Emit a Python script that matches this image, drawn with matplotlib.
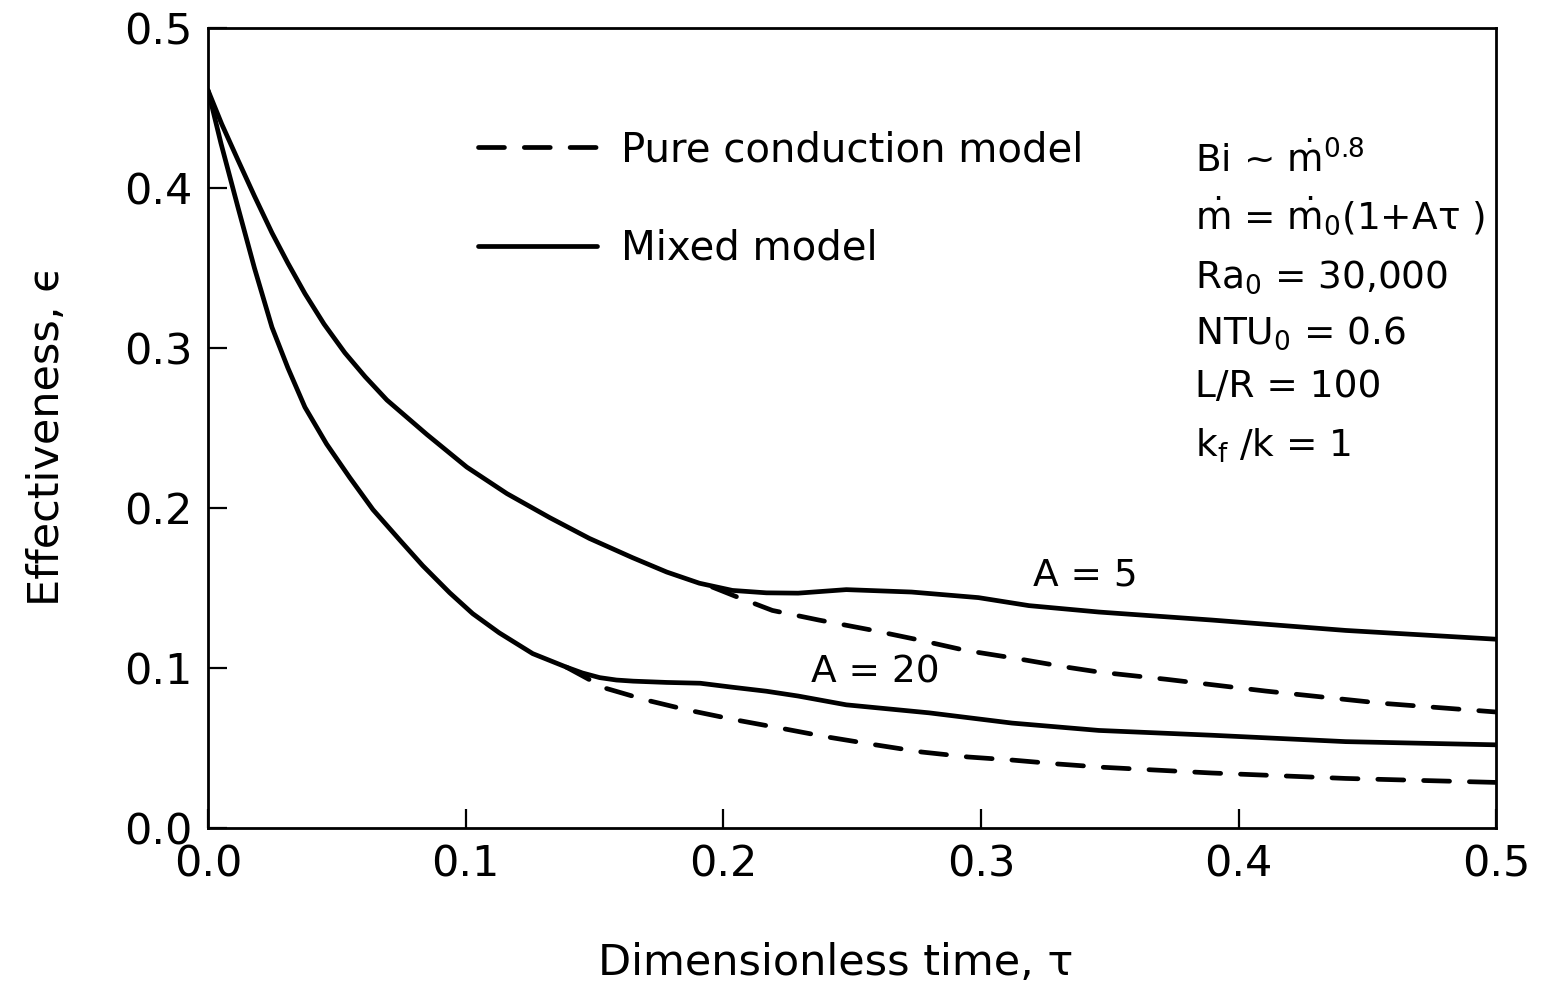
import matplotlib
matplotlib.use("Agg")
import matplotlib.pyplot as plt
from matplotlib.lines import Line2D

plt.rcParams['font.family'] = ['DejaVu Sans']
plt.rcParams['mathtext.fontset'] = 'dejavusans'

# ---- data (tau, effectiveness) ----
tau_A5_mixed = [0.0, 0.0053, 0.0116, 0.018, 0.0248, 0.031, 0.0376, 0.045, 0.0531,
                0.061, 0.0694, 0.0849, 0.1004, 0.116, 0.1326, 0.148, 0.1647, 0.178,
                0.1907, 0.2035, 0.2167, 0.229, 0.2477, 0.273, 0.299, 0.3186, 0.3457,
                0.3895, 0.4415, 0.5]
eps_A5_mixed = [0.461, 0.440, 0.4175, 0.395, 0.372, 0.353, 0.334, 0.315, 0.297,
                0.282, 0.2675, 0.246, 0.2256, 0.209, 0.194, 0.181, 0.169, 0.160,
                0.153, 0.1485, 0.147, 0.1468, 0.149, 0.1475, 0.144, 0.139, 0.135,
                0.130, 0.1235, 0.118]

tau_A20_mixed = [0.0, 0.005, 0.0116, 0.018, 0.0248, 0.031, 0.0376, 0.046, 0.055,
                 0.064, 0.0744, 0.0833, 0.0938, 0.1027, 0.113, 0.126, 0.139, 0.1453,
                 0.152, 0.1585, 0.165, 0.178, 0.191, 0.2035, 0.2167, 0.229, 0.2477,
                 0.2798, 0.312, 0.3457, 0.3895, 0.4415, 0.5]
eps_A20_mixed = [0.461, 0.428, 0.388, 0.350, 0.313, 0.2875, 0.263, 0.240, 0.219,
                 0.199, 0.180, 0.164, 0.147, 0.134, 0.122, 0.109, 0.1006, 0.0969,
                 0.094, 0.0925, 0.0918, 0.091, 0.0905, 0.088, 0.0855, 0.0825, 0.077,
                 0.072, 0.0656, 0.061, 0.058, 0.054, 0.052]

tau_A5_cond = [0.1957, 0.206, 0.219, 0.237, 0.2566, 0.276, 0.294, 0.3136, 0.333,
               0.3457, 0.3717, 0.4105, 0.4554, 0.5]
eps_A5_cond = [0.1506, 0.144, 0.136, 0.130, 0.124, 0.1175, 0.111, 0.106, 0.1006,
               0.0975, 0.093, 0.0856, 0.078, 0.0725]

tau_A20_cond = [0.139, 0.154, 0.170, 0.186, 0.205, 0.2236, 0.240, 0.259, 0.277,
                0.295, 0.312, 0.330, 0.347, 0.3895, 0.4415, 0.5]
eps_A20_cond = [0.1006, 0.0875, 0.080, 0.0738, 0.0675, 0.062, 0.057, 0.052, 0.0475,
                0.0444, 0.0425, 0.040, 0.038, 0.0344, 0.031, 0.0285]

xticks = [0.0, 0.1, 0.2, 0.3, 0.4, 0.5]
yticks = [0.0, 0.1, 0.2, 0.3, 0.4, 0.5]
xtick_labels = ["0.0", "0.1", "0.2", "0.3", "0.4", "0.5"]
ytick_labels = ["0.0", "0.1", "0.2", "0.3", "0.4", "0.5"]

params_text = [
    r"Bi ~ $\dot{\mathrm{m}}^{0.8}$",
    r"$\dot{\mathrm{m}}$ = $\dot{\mathrm{m}}_0$(1+Aτ )",
    r"Ra$_0$ = 30,000",
    r"NTU$_0$ = 0.6",
    "L/R = 100",
    r"k$_\mathrm{f}$ /k = 1",
]

# ---- figure ----
fig = plt.figure(figsize=(15.62, 9.90), dpi=100)
ax = fig.add_axes([0.1332, 0.1636, 0.8248, 0.8081])

lw = 3.4
dash = (5.5, 4.2)
ax.plot(tau_A5_mixed, eps_A5_mixed, color='black', lw=lw, solid_capstyle='round',
        solid_joinstyle='round')
ax.plot(tau_A20_mixed, eps_A20_mixed, color='black', lw=lw, solid_capstyle='round',
        solid_joinstyle='round')
ax.plot(tau_A5_cond, eps_A5_cond, color='black', lw=lw, dashes=dash, dash_capstyle='round')
ax.plot(tau_A20_cond, eps_A20_cond, color='black', lw=lw, dashes=dash, dash_capstyle='round')

ax.set_xlim(0, 0.5)
ax.set_ylim(0, 0.5)
ax.set_xticks(xticks)
ax.set_xticklabels(xtick_labels)
ax.set_yticks(yticks)
ax.set_yticklabels(ytick_labels)
ax.tick_params(direction='in', length=14, width=1.6, labelsize=31, pad=11,
               top=False, right=False)
for s in ax.spines.values():
    s.set_linewidth(2.0)

ax.set_xlabel("Dimensionless time, τ", fontsize=31)
ax.xaxis.set_label_coords(0.487, -0.142)
ax.set_ylabel("Effectiveness, ϵ", fontsize=31)
ax.yaxis.set_label_coords(-0.109, 0.49)

# legend
handles = [Line2D([], [], color='black', lw=lw, dashes=dash, dash_capstyle='round'),
           Line2D([], [], color='black', lw=lw, solid_capstyle='round')]
labels = ["Pure conduction model", "Mixed model"]
leg = ax.legend(handles, labels, loc='upper left', bbox_to_anchor=(0.2095, 0.872),
                frameon=False, fontsize=29, handlelength=2.95, handletextpad=0.6,
                labelspacing=1.45, borderpad=0, borderaxespad=0)

# curve labels
ax.text(0.320, 0.158, "A = 5", fontsize=27, va='center', ha='left')
ax.text(0.234, 0.0975, "A = 20", fontsize=27, va='center', ha='left')

# parameter block
ys = [0.819, 0.7475, 0.676, 0.606, 0.539, 0.464]
for t, yy in zip(params_text, ys):
    ax.text(0.766, yy, t, transform=ax.transAxes, fontsize=27, va='baseline', ha='left')

fig.savefig("out.png", dpi=100, facecolor='white')
